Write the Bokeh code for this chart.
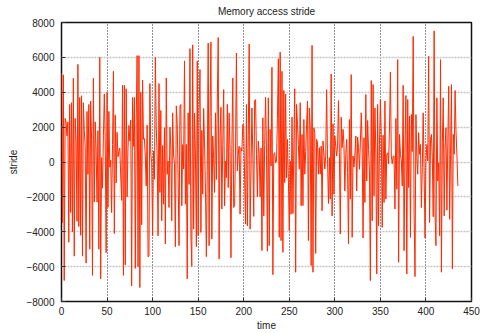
from bokeh.plotting import figure
from bokeh.models import FixedTicker, ColumnDataSource
from bokeh.embed import file_html
from bokeh.resources import INLINE

# Memory access stride per time step
stride = [
    # t 0-43
    5100, -3500, 5000, -6800, 2500, 2300, 1500, 2300, -4600, 3300, -2900, 3400, -4000, 4800, -5400, 2500,
    1200, -3400, 5600, -3700, 3700, -4200, 3800, -5400, 3400, 1800, 900, -5800, 2900, -700, 3300, -5000,
    3500, 1300, -6500, 4800, -2300, 2300, 600, -2300, 1800, -5000, 6000, -6700,
    # t 44-89
    250, -1500, 1500, 3900, 1200, -5200, 4000, -2600, 2900, -300, 100, -2900, 1000, 5200, -4100, 2700,
    -1200, 1700, 300, 600, 800, -800, -2200, 4400, -6500, 4400, -5900, 4200, -2000, 800, 2100, 1200,
    2400, -7100, 3700, 900, 3700, -6100, 2400, 6100, -6000, 6100, -7200, 4000, -3600, 4700,
    # t 90-129
    1300, 1350, 300, -1370, 2110, -5430, -5400, 4500, 440, -40, -4230, 630, -990, 6000, 2000, 340,
    -4230, 4500, -1750, 2950, -3370, 950, -2420, 1960, -4700, 4820, -700, 60, -2610, 2000, 800, -3370,
    2820, 400, -100, -4860, 3220, 2200, -1000, -4800,
    # t 130-173
    3200, 3300, -2510, 1000, -400, 5800, -2420, 1010, -6700, 2820, -1280, 6500, -4130, -5980, 6720, -3850,
    2800, 500, -4860, 5800, -4230, 3000, 5300, -4040, 1810, -1850, 3070, 1100, -1620, -5430, -500, 6820,
    -4800, 2530, 6880, -4420, 1490, 200, -1750, 2820, -1000, 3500, 7140, -5560,
    # t 174-219
    1500, 3140, -2700, 1000, 4150, -2510, 60, -900, 3300, -1470, 2800, 600, -5490, 1010, 4820, -2610,
    -2500, 800, 6250, -510, 440, 900, -2990, 820, 630, 2150, 2050, -1000, -3560, 3300, -3660, 1500,
    6760, -3850, -510, 3100, 400, -3120, 3520, 3580, 440, -2000, 1200, 440, -2000, 800,
    # t 220-261
    -5080, 2530, -3090, 1000, 3710, 440, -5120, 3680, -4800, 1870, -230, 5430, -6460, 440, 540, -40,
    60, 2500, 5920, -4320, 6300, -4510, 5200, -5180, 4100, -1180, 3900, -900, 1300, -900, -3940, 60,
    -3000, 2570, -2950, 800, 4200, -6320, 3300, 2150, 1000, -420,
    # t 262-307
    3400, -2510, 1580, -2500, 2440, -700, 600, 2150, 3490, -4510, 3100, 1960, -5940, 6690, -6320, 1960,
    1680, -5240, 1300, 1100, -700, 820, -700, 910, -2800, 1200, 440, -400, 340, 4150, 150, -2380,
    250, -2130, 5050, -3090, 2190, -1850, 1500, 910, 340, 910, 3520, 530, -4130, 2570,
    # t 308-350
    820, 1870, 1010, -1660, 440, 1300, -600, -4700, 2440, -2130, 5010, -4320, 340, -290, 440, 1490,
    -1660, 1430, 820, -420, 1100, 2820, 1010, -4360, 1390, -2320, 3870, -1090, 2380, 720, -510, -6800,
    4670, -3370, 4440, -1940, 3100, 500, -6420, 3300, -3660, 1000, 3580,
    # t 351-395
    1580, -3750, 1540, -2320, 3490, -2130, 440, 530, -100, 2000, 5160, 340, -100, 340, 340, -2700,
    2490, -1560, 5870, -5750, 1580, 440, 60, -1370, 4400, -5090, 820, 3810, -6420, 3580, -1470, 2630,
    -4320, 2720, 600, 7200, -2990, -6570, 2720, 250, -700, 1680, 440, 1000, -2610,
    # t 396-435
    -320, 2820, -510, -4360, 60, 1000, 60, 6060, -3470, 1300, 1580, 250, -3140, 7520, -2990, -4800,
    3680, -1090, -40, -4230, 5870, -6320, 1100, 3680, -3090, 820, 1960, -2760, 1100, 4340, -3280, 440,
    4440, -6130, 1580, 440, 4100, 1770, 400, -1370,
]
time = list(range(len(stride)))

x_ticks = [0, 50, 100, 150, 200, 250, 300, 350, 400, 450]
y_ticks = [-8000, -6000, -4000, -2000, 0, 2000, 4000, 6000, 8000]

FONT = "Liberation Sans"

p = figure(
    width=482, height=333,
    x_range=(0, 450), y_range=(-8000, 8000),
    output_backend="svg", toolbar_location=None,
    title="Memory access stride",
    min_border_left=61, min_border_right=11,
    min_border_top=22, min_border_bottom=31,
)
p.background_fill_color = "white"
p.border_fill_color = "white"
p.outline_line_color = "#111111"
p.outline_line_width = 1.5

p.title.align = "center"
p.title.vertical_align = "top"
p.title.text_font = FONT
p.title.text_font_size = "10px"
p.title.text_font_style = "normal"
p.title.text_color = "#222222"
p.title.standoff = 8

src = ColumnDataSource(data=dict(time=time, stride=stride))
p.line("time", "stride", source=src, line_color="#ff2a00", line_width=1.0)

p.xaxis.ticker = FixedTicker(ticks=x_ticks)
p.yaxis.ticker = FixedTicker(ticks=y_ticks)
p.xaxis.axis_label = "time"
p.yaxis.axis_label = "stride"

for ax in (p.xaxis, p.yaxis):
    ax.axis_line_color = None
    ax.major_tick_in = 4
    ax.major_tick_out = 0
    ax.major_tick_line_color = "#333333"
    ax.minor_tick_line_color = None
    ax.major_label_text_font = FONT
    ax.major_label_text_font_size = "10px"
    ax.major_label_text_color = "#222222"
    ax.axis_label_text_font = FONT
    ax.axis_label_text_font_size = "10px"
    ax.axis_label_text_font_style = "normal"
    ax.axis_label_text_color = "#222222"

p.xaxis.major_label_standoff = 5
p.xaxis.axis_label_standoff = 2
p.yaxis.major_label_standoff = 7
p.yaxis.axis_label_standoff = 4

p.xgrid.grid_line_color = "#222222"
p.xgrid.grid_line_dash = "1 2"
p.xgrid.grid_line_width = 1
p.ygrid.grid_line_color = "#c4c4c4"
p.ygrid.grid_line_dash = "2 1"
p.ygrid.grid_line_width = 1.3

open("out.html", "w").write(file_html(p, INLINE))
